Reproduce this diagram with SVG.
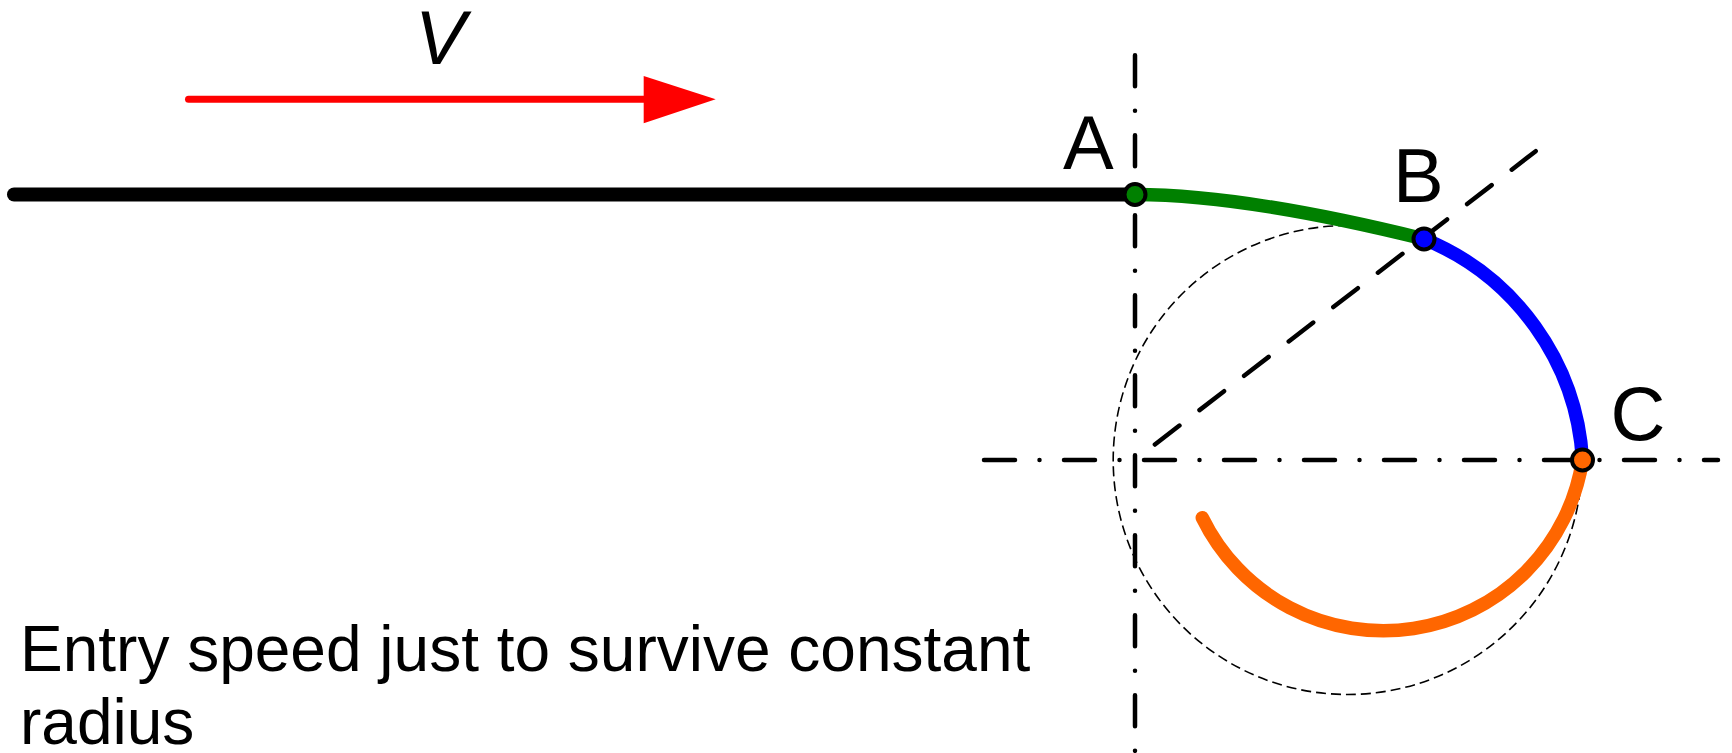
<svg xmlns="http://www.w3.org/2000/svg" width="1732" height="753" viewBox="0 0 1732 753">
<style>
.lbl{font-family:"Liberation Sans",Arial,sans-serif;fill:#000}
.axis{fill:none;stroke:#000;stroke-width:4.5;stroke-linecap:round}
.curve{fill:none;stroke-width:13.5;stroke-linecap:round}
.pt{stroke:#000;stroke-width:4}
</style>
<rect width="1732" height="753" fill="#fff"/>
<g id="construction">
<circle cx="1347.7" cy="460" r="234.5" fill="none" stroke="#000" stroke-width="1.6" stroke-dasharray="10 5"/>
<path class="axis" d="M1135,55.3 V751" stroke-dasharray="31 24.5 0 24.5"/>
<path class="axis" d="M984,460 H1718" stroke-dasharray="31 24.5 0 24.5"/>
<path class="axis" d="M1154.9,444.5 L1535.7,151.2" stroke-dasharray="31 25.3"/>
</g>
<g id="velocity">
<line x1="188.5" y1="99.3" x2="650" y2="99.3" stroke="#ff0000" stroke-width="7" stroke-linecap="round"/>
<polygon points="643.7,76 715.7,99.3 643.7,123.3" fill="#ff0000"/>
<text class="lbl" x="415" y="64" font-size="76" font-style="italic">V</text>
</g>
<g id="connectors">
<line x1="14" y1="194.5" x2="1135" y2="194.5" stroke="#000" stroke-width="14" stroke-linecap="round"/>
<path class="curve" stroke="#008000" d="M1135,194.5 Q1244,194.5 1424,239"/>
<path class="curve" stroke="#0000ff" d="M1424,239 A255,255 0 0 1 1582.5,460"/>
<path class="curve" stroke="#ff6600" d="M1582.5,460 A201.5,201.5 0 0 1 1202.3,517.7"/>
</g>
<g id="nodeA">
<circle class="pt" cx="1135" cy="194.5" r="10.5" fill="#008000"/>
<text class="lbl" x="1063" y="169" font-size="76">A</text>
</g>
<g id="nodeB">
<circle class="pt" cx="1424" cy="239" r="10.5" fill="#0000ff"/>
<text class="lbl" x="1393" y="202" font-size="76">B</text>
</g>
<g id="nodeC">
<circle class="pt" cx="1582.5" cy="460" r="10.5" fill="#ff6600"/>
<text class="lbl" x="1610.5" y="439.5" font-size="76">C</text>
</g>
<g id="caption">
<text class="lbl" x="20" y="671" font-size="64">Entry speed just to survive constant</text>
<text class="lbl" x="20" y="744" font-size="64">radius</text>
</g>
</svg>
